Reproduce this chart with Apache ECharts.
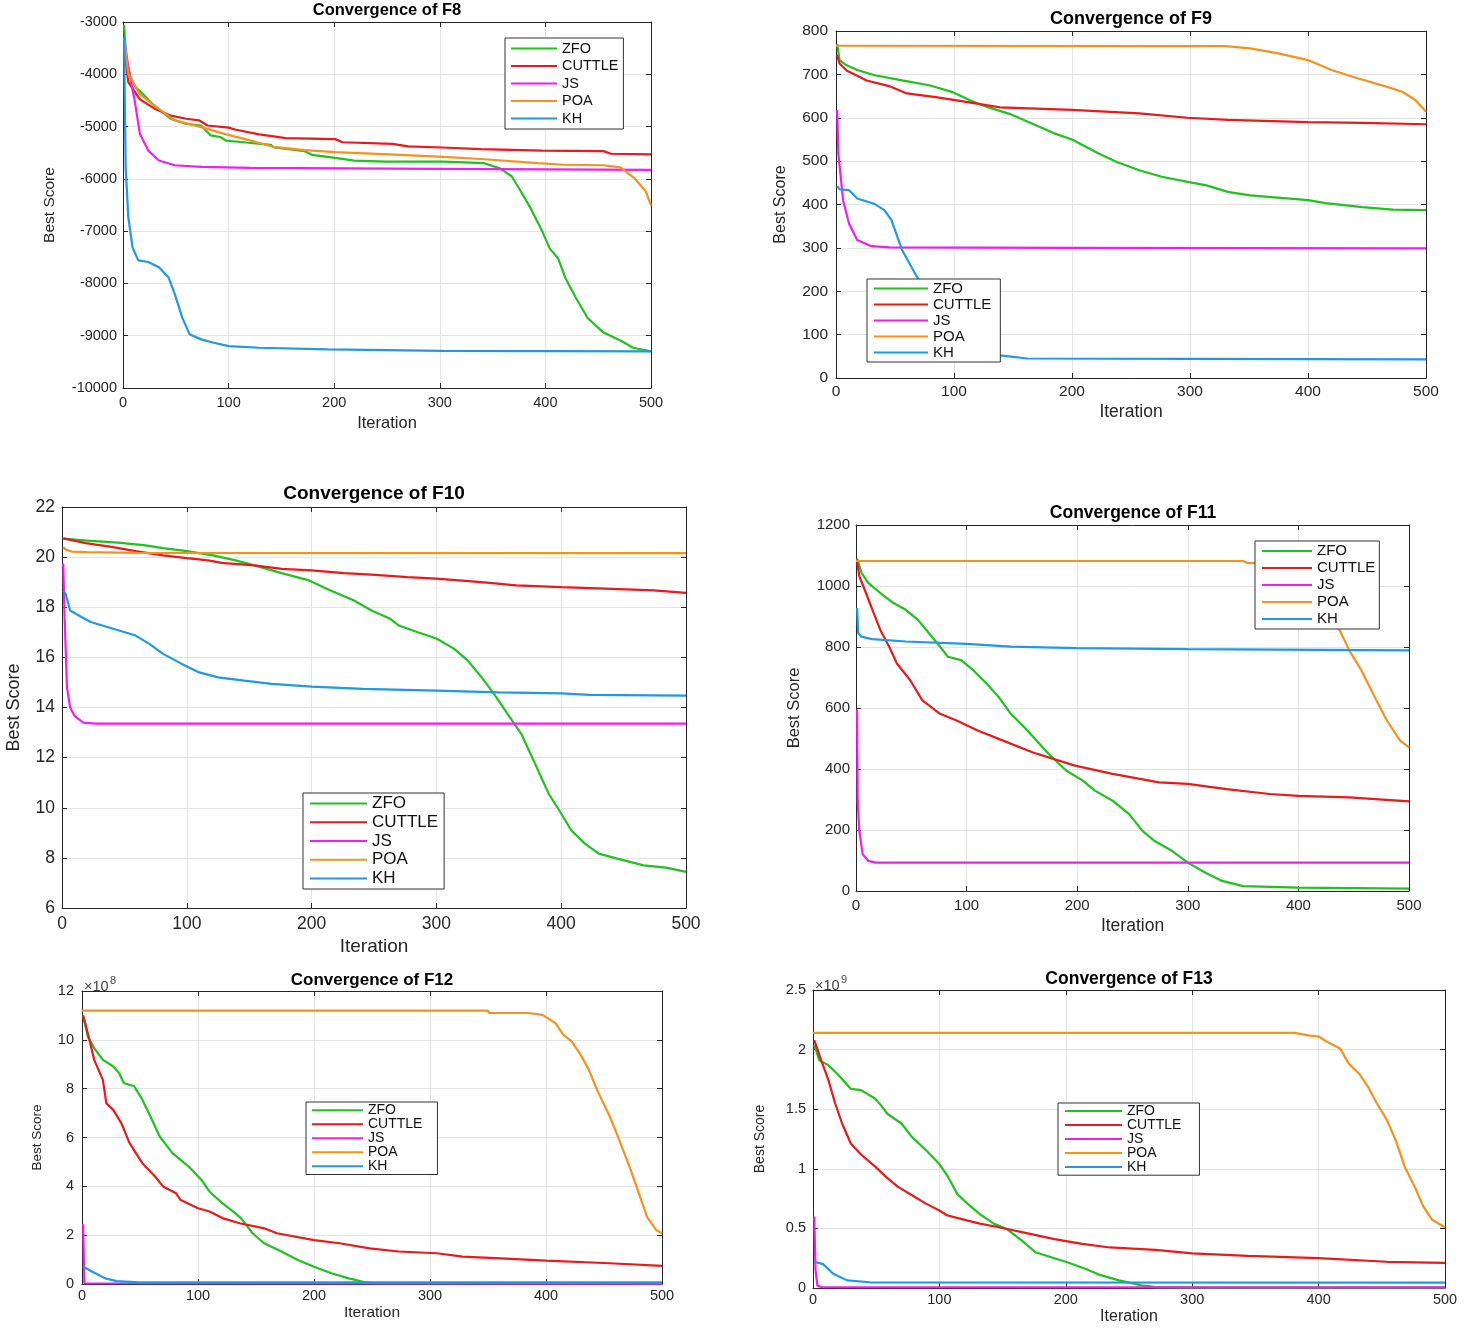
<!DOCTYPE html>
<html>
<head>
<meta charset="utf-8">
<title>Convergence of F8 - F13</title>
<script src="https://cdn.jsdelivr.net/npm/echarts/dist/echarts.min.js"></script>
<style>
  html, body { margin: 0; padding: 0; background: #fff; }
  #chart { width: 1464px; height: 1328px; }
</style>
</head>
<body>
<div id="chart"></div>
<script>
// algorithm names (legend order) and their line colours
const algorithms = ["ZFO", "CUTTLE", "JS", "POA", "KH"];
const algoColors = ["#1fc21f", "#e81a1a", "#f01ef0", "#f5921e", "#1f98e8"];

// [iteration, best score]
const f8Zfo = [[1,-3050],[3,-3700],[7,-4040],[12,-4250],[18,-4360],[27,-4550],[45,-4850],[60,-4950],[74,-4980],[83,-5170],[92,-5200],[98,-5270],[114,-5300],[140,-5350],[143,-5400],[172,-5470],[179,-5540],[201,-5600],[219,-5650],[248,-5670],[303,-5670],[342,-5700],[357,-5800],[368,-5950],[375,-6180],[386,-6560],[397,-7000],[404,-7330],[412,-7520],[419,-7900],[429,-8280],[440,-8660],[455,-8940],[472,-9100],[483,-9230],[500,-9300]];
const f8Cuttle = [[1,-3500],[5,-4150],[16,-4480],[31,-4670],[45,-4790],[60,-4850],[72,-4880],[80,-4980],[100,-5020],[107,-5060],[129,-5150],[154,-5220],[201,-5240],[208,-5300],[255,-5330],[270,-5380],[302,-5400],[339,-5430],[397,-5460],[455,-5470],[462,-5520],[500,-5530]];
const f8Js = [[1,-3300],[5,-3860],[11,-4500],[16,-5140],[24,-5460],[34,-5650],[49,-5740],[74,-5770],[121,-5790],[300,-5810],[500,-5830]];
const f8Poa = [[1,-3300],[5,-4000],[16,-4380],[31,-4620],[49,-4880],[74,-5010],[96,-5140],[114,-5230],[143,-5390],[172,-5450],[201,-5490],[252,-5530],[303,-5580],[339,-5620],[393,-5700],[418,-5730],[455,-5740],[471,-5780],[484,-5980],[495,-6240],[500,-6510]];
const f8Kh = [[1,-3300],[2.5,-5770],[5,-6730],[9,-7310],[14.5,-7560],[24,-7590],[34,-7690],[43,-7880],[49,-8200],[56,-8650],[63,-8970],[74,-9070],[85,-9130],[100,-9200],[129,-9230],[194,-9260],[303,-9290],[500,-9300]];

const f9Zfo = [[1,770],[3,733],[9,721],[18,710],[33,698],[56,686],[79,675],[99,659],[114,640],[128,625],[147,609],[166,587],[185,564],[200,550],[223,517],[238,498],[257,479],[276,464],[298,452],[314,444],[332,429],[351,421],[400,410],[415,403],[446,394],[472,388],[500,387]];
const f9Cuttle = [[1,745],[3,725],[9,709],[26,686],[45,673],[60,656],[86,647],[109,637],[139,624],[200,618],[257,610],[298,600],[332,595],[400,590],[446,588],[500,585]];
const f9Js = [[1,618],[2,517],[6,410],[11,356],[18,318],[30,304],[45,301],[200,300],[500,299]];
const f9Poa = [[0,766],[330,765],[351,760],[374,749],[400,733],[420,710],[442,691],[465,673],[480,660],[491,641],[500,614]];
const f9Kh = [[1,442],[3,435],[11,433],[18,414],[33,401],[41,387],[47,364],[56,295],[67,241],[73,214],[80,180],[90,130],[100,95],[115,70],[130,57],[139,52],[162,45],[300,44],[500,43]];

const f10Zfo = [[1,20.74],[23,20.65],[45,20.58],[67,20.47],[81,20.36],[100,20.24],[121,20.07],[139,19.87],[157,19.63],[176,19.36],[198,19.07],[212,18.74],[234,18.27],[248,17.87],[263,17.54],[270,17.27],[285,17.0],[300,16.75],[314,16.35],[325,15.88],[336,15.22],[346,14.55],[357,13.75],[368,12.95],[379,11.76],[390,10.56],[400,9.77],[408,9.1],[419,8.57],[430,8.17],[445,7.97],[466,7.7],[484,7.61],[500,7.44]];
const f10Cuttle = [[1,20.75],[19,20.56],[41,20.4],[59,20.24],[81,20.07],[100,19.96],[117,19.87],[128,19.77],[154,19.67],[176,19.53],[200,19.47],[226,19.36],[248,19.3],[277,19.2],[300,19.14],[336,19.0],[364,18.87],[400,18.8],[441,18.73],[474,18.67],[500,18.57]];
const f10Js = [[1,19.74],[2,17.73],[4,14.8],[6.5,14.0],[10,13.67],[17,13.4],[27,13.36],[500,13.36]];
const f10Poa = [[1,20.4],[3,20.3],[8,20.22],[20,20.2],[60,20.17],[500,20.16]];
const f10Kh = [[1,18.66],[3,18.53],[6.5,17.87],[16,17.6],[23,17.41],[37,17.2],[59,16.87],[70,16.54],[81,16.14],[96,15.74],[110,15.4],[125,15.2],[146,15.07],[168,14.94],[200,14.83],[241,14.74],[300,14.67],[350,14.6],[400,14.56],[423,14.5],[500,14.47]];

const f11Zfo = [[1,1090],[5,1043],[11,1010],[22,977],[34,944],[45,922],[56,889],[66,845],[76,801],[83,768],[95,757],[106,724],[118,680],[129,636],[140,581],[152,538],[163,494],[174,450],[190,395],[205,362],[216,329],[232,296],[247,252],[259,197],[270,164],[286,131],[300,93],[316,60],[331,33],[350,16],[400,11],[500,8]];
const f11Cuttle = [[1,1081],[3,1032],[9,977],[16,911],[22,856],[30,801],[37,746],[49,691],[60,625],[76,581],[91,559],[110,526],[133,493],[160,454],[198,411],[232,384],[274,356],[300,351],[335,334],[374,318],[400,312],[446,307],[500,294]];
const f11Js = [[1,595],[1.5,297],[3,198],[6,121],[11,99],[18,93],[500,93]];
const f11Poa = [[0,1082],[350,1082],[354,1076],[380,1075],[400,1055],[415,1000],[428,920],[438,850],[446,789],[457,723],[469,636],[480,559],[492,493],[500,471]];
const f11Kh = [[1,928],[2,845],[5,834],[14.5,826],[45,818],[100,810],[140,801],[200,796],[300,793],[500,789]];

// F12 values in units of 1e8
const f12Zfo = [[1,11.0],[5,10.14],[10.5,9.66],[18,9.18],[27,8.91],[32,8.64],[36,8.23],[45,8.1],[52,7.55],[59,6.86],[67,6.04],[78,5.36],[92,4.81],[103,4.26],[110,3.78],[121,3.31],[132,2.9],[137,2.7],[147,2.08],[157,1.67],[172,1.33],[186,0.98],[200,0.71],[215,0.44],[230,0.23],[244,0.07],[255,0.03],[500,0.03]];
const f12Cuttle = [[1,11.0],[5,10.27],[10.5,9.18],[18,8.36],[21,7.4],[27,7.13],[34,6.58],[41,5.77],[52,4.95],[63,4.4],[70,3.99],[81,3.72],[85,3.44],[100,3.1],[110,2.97],[121,2.7],[136,2.49],[157,2.28],[168,2.08],[200,1.8],[222,1.67],[248,1.46],[273,1.33],[306,1.26],[328,1.12],[361,1.05],[400,0.96],[455,0.85],[500,0.74]];
const f12Js = [[1,2.45],[2,0.03],[500,0.01]];
const f12Poa = [[0,11.2],[350,11.2],[351,11.1],[385,11.1],[397,11.02],[408,10.69],[415,10.2],[422,9.94],[429,9.46],[437,8.77],[444,7.95],[455,6.86],[462,6.04],[473,4.67],[480,3.72],[487,2.76],[495,2.21],[500,2.08]];
const f12Kh = [[1,0.71],[9,0.5],[20,0.23],[30,0.12],[49,0.07],[500,0.07]];

// F13 values in units of 1e9
const f13Zfo = [[1,2.04],[5,1.91],[12,1.87],[19,1.8],[30,1.67],[38,1.66],[49,1.59],[54,1.53],[59,1.46],[70,1.38],[78,1.27],[89,1.16],[100,1.04],[107,0.93],[114,0.79],[122,0.71],[132,0.62],[143,0.54],[154,0.49],[165,0.4],[176,0.3],[191,0.25],[200,0.22],[216,0.16],[227,0.11],[242,0.064],[260,0.022],[271,0.008],[308,0.003],[500,0.003]];
const f13Cuttle = [[1,2.08],[6.5,1.91],[12,1.75],[17.5,1.55],[23,1.38],[30,1.21],[38,1.12],[49,1.02],[58,0.93],[67,0.85],[78,0.78],[89,0.71],[100,0.65],[106,0.61],[117,0.58],[132,0.54],[147,0.51],[169,0.46],[191,0.41],[213,0.37],[235,0.34],[271,0.32],[300,0.29],[344,0.27],[400,0.25],[454,0.22],[500,0.21]];
const f13Js = [[1,0.6],[2,0.15],[3.5,0.02],[6.5,0.008],[500,0.005]];
const f13Poa = [[0,2.14],[381,2.14],[392,2.12],[400,2.11],[406,2.07],[417,2.01],[424,1.88],[432,1.8],[439,1.69],[446,1.55],[454,1.41],[461,1.24],[468,1.02],[476,0.85],[483,0.68],[490,0.57],[500,0.51]];
const f13Kh = [[1,0.22],[8,0.2],[16,0.12],[27,0.064],[45,0.048],[500,0.045]];

const panelTitles = ["Convergence of F8", "Convergence of F9", "Convergence of F10", "Convergence of F11", "Convergence of F12", "Convergence of F13"];
const panelData = [
  [f8Zfo, f8Cuttle, f8Js, f8Poa, f8Kh],
  [f9Zfo, f9Cuttle, f9Js, f9Poa, f9Kh],
  [f10Zfo, f10Cuttle, f10Js, f10Poa, f10Kh],
  [f11Zfo, f11Cuttle, f11Js, f11Poa, f11Kh],
  [f12Zfo, f12Cuttle, f12Js, f12Poa, f12Kh],
  [f13Zfo, f13Cuttle, f13Js, f13Poa, f13Kh],
];
const yRanges = [[-10000, -3000, 1000], [0, 800, 100], [6, 22, 2], [0, 1200, 200], [0, 12, 2], [0, 2.5, 0.5]];
const yExponents = [null, null, null, null, "8", "9"];

// layout of each subplot (pixels); names: [x font, y font], gaps: [x gap, y gap]
const layouts = [
  { grid: [123, 22, 528, 366], title: [387, 2, 16.5], tick: 14.5, tickMargin: [7, 6], name: [16.5, 15.5], nameGap: [26.5, 65],
    legend: { left: 505, top: 38, iw: 46, fs: 14.5, lh: 14.5, gap: 2.5, pad: [3, 5, 3, 5] } },
  { grid: [836, 31, 590, 347], title: [1131, 10, 18], tick: 15.5, tickMargin: [6, 8], name: [17.5, 16], nameGap: [25, 47],
    legend: { left: 867, top: 279, iw: 54, fs: 15, lh: 15, gap: 1, pad: [2, 9, 2, 6] } },
  { grid: [62, 507, 624, 401], title: [374, 484, 19], tick: 17.5, tickMargin: [7, 7], name: [19, 18], nameGap: [29.5, 39],
    legend: { left: 303, top: 793, iw: 57, fs: 17, lh: 17, gap: 1.75, pad: [2, 6, 2, 6] } },
  { grid: [856, 525, 553, 366], title: [1133, 504, 17.5], tick: 15, tickMargin: [7, 6], name: [17.5, 16.5], nameGap: [26, 53],
    legend: { left: 1255, top: 541, iw: 50, fs: 15, lh: 15, gap: 2, pad: [2.5, 4, 2.5, 6] } },
  { grid: [82, 991, 580, 293], title: [372, 972, 17], tick: 14.5, tickMargin: [4.75, 8], name: [15.5, 13.5], nameGap: [21, 38],
    legend: { left: 306, top: 1102, iw: 51, fs: 14, lh: 13.5, gap: 0, pad: [1.25, 15, 1.25, 5] } },
  { grid: [813, 990, 632, 298], title: [1129, 970, 17.5], tick: 14.5, tickMargin: [4.75, 7], name: [16, 14], nameGap: [20, 46],
    legend: { left: 1058, top: 1103, iw: 57, fs: 14, lh: 13.75, gap: 0, pad: [1.1, 18, 1.1, 6] } },
];

const FONT = "'Liberation Sans', Arial, sans-serif";
const AXIS_COLOR = "#262626";

const chart = echarts.init(document.getElementById("chart"), null, { renderer: "canvas" });

const grid = [], xAxis = [], yAxis = [], series = [], title = [], legend = [], graphic = [];

layouts.forEach((lay, i) => {
  const [gl, gt, gw, gh] = lay.grid;
  grid.push({ left: gl, top: gt, width: gw, height: gh, containLabel: false, outerBoundsMode: "none" });

  const tickStyle = { show: true, inside: true, length: 5, lineStyle: { color: AXIS_COLOR } };
  const lineStyle = { show: true, onZero: false, lineStyle: { color: AXIS_COLOR, width: 1 } };
  const labelStyle = { color: AXIS_COLOR, fontFamily: FONT, fontSize: lay.tick };

  xAxis.push({
    type: "value", gridIndex: i, min: 0, max: 500, interval: 100, position: "bottom",
    axisLine: lineStyle, axisTick: tickStyle,
    axisLabel: { ...labelStyle, margin: lay.tickMargin[0] },
    splitLine: { show: true, lineStyle: { color: "#e3e3e3" } },
    name: "Iteration", nameLocation: "middle", nameGap: lay.nameGap[0],
    nameTextStyle: { color: AXIS_COLOR, fontFamily: FONT, fontSize: lay.name[0] },
  });
  xAxis.push({
    type: "value", gridIndex: i, min: 0, max: 500, interval: 100, position: "top",
    axisLine: lineStyle, axisTick: tickStyle, axisLabel: { show: false }, splitLine: { show: false },
  });

  const [ymin, ymax, yint] = yRanges[i];
  yAxis.push({
    type: "value", gridIndex: i, min: ymin, max: ymax, interval: yint, position: "left",
    axisLine: lineStyle, axisTick: tickStyle,
    axisLabel: { ...labelStyle, margin: lay.tickMargin[1], formatter: (v) => String(+v.toFixed(2)) },
    splitLine: { show: true, lineStyle: { color: "#e3e3e3" } },
    name: "Best Score", nameLocation: "middle", nameGap: lay.nameGap[1],
    nameTextStyle: { color: AXIS_COLOR, fontFamily: FONT, fontSize: lay.name[1] },
  });
  yAxis.push({
    type: "value", gridIndex: i, min: ymin, max: ymax, interval: yint, position: "right",
    axisLine: lineStyle, axisTick: tickStyle, axisLabel: { show: false }, splitLine: { show: false },
  });

  title.push({
    text: panelTitles[i], left: lay.title[0], top: lay.title[1], textAlign: "center", padding: 0,
    textStyle: { fontFamily: FONT, fontSize: lay.title[2], fontWeight: "bold", color: "#000" },
  });

  const lg = lay.legend;
  legend.push({
    data: algorithms, orient: "vertical", left: lg.left, top: lg.top, z: 20,
    itemWidth: lg.iw, itemHeight: lg.lh, itemGap: lg.gap, padding: lg.pad,
    backgroundColor: "#fff", borderColor: "#333", borderWidth: 1, borderRadius: 0,
    selectedMode: false,
    itemStyle: { opacity: 0 },
    lineStyle: { width: 2 },
    textStyle: { fontFamily: FONT, fontSize: lg.fs, lineHeight: lg.lh, color: "#111" },
  });

  panelData[i].forEach((pts, k) => {
    series.push({
      name: algorithms[k], type: "line", xAxisIndex: 2 * i, yAxisIndex: 2 * i,
      data: pts, showSymbol: false, symbol: "none", smooth: false,
      lineStyle: { color: algoColors[k], width: 2.2 }, itemStyle: { color: algoColors[k] },
      emphasis: { disabled: true },
    });
  });

  if (yExponents[i]) {
    graphic.push({ type: "text", left: gl + 2, top: gt - 12, z: 10,
      style: { text: "×10", fontFamily: FONT, fontSize: 14.5, fill: "#444" } });
    graphic.push({ type: "text", left: gl + 28, top: gt - 16, z: 10,
      style: { text: yExponents[i], fontFamily: FONT, fontSize: 11, fill: "#444" } });
  }
});

chart.setOption({
  animation: false,
  backgroundColor: "#fff",
  title, legend, grid, xAxis, yAxis, series, graphic,
});
</script>
</body>
</html>
